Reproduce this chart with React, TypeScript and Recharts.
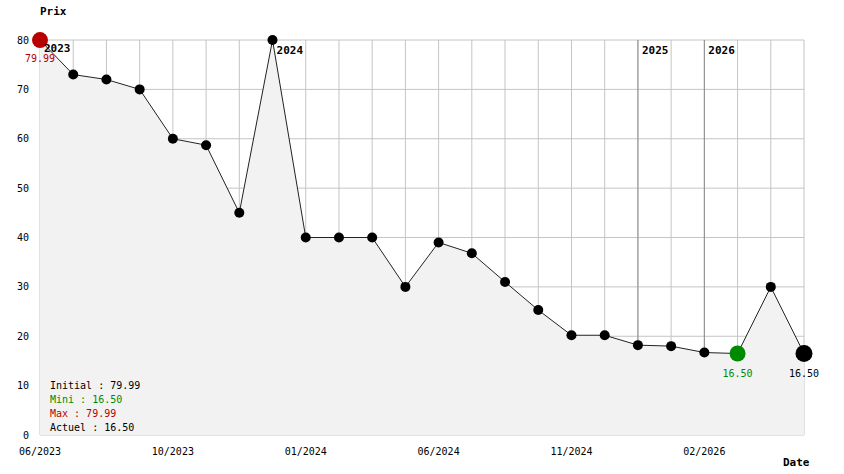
import React from "react";
import { ComposedChart, Area, XAxis, YAxis, CartesianGrid, ReferenceLine } from "recharts";

const prices = [79.99, 73, 72, 70, 60, 58.7, 45, 79.99, 40, 40, 40, 30, 39, 36.8, 31, 25.3, 20.2, 20.2, 18.2, 18, 16.7, 16.5, 30, 16.5];
const tickIndices = [0, 4, 8, 12, 16, 20];
const tickLabels = ["06/2023", "10/2023", "01/2024", "06/2024", "11/2024", "02/2026"];
const yearIndices = [0, 7, 18, 20];
const yearLabels = ["2023", "2024", "2025", "2026"];
const yTicks = [0, 10, 20, 30, 40, 50, 60, 70, 80];

const data = prices.map((p, i) => ({ idx: i, price: p }));

const initial = prices[0];
const current = prices[prices.length - 1];
const minVal = Math.min(...prices);
const maxVal = Math.max(...prices);
const minIdx = prices.lastIndexOf(minVal) === prices.length - 1 ? prices.indexOf(minVal) : prices.lastIndexOf(minVal);
const maxIdx = prices.indexOf(maxVal);
const lastIdx = prices.length - 1;

const FONT = "'DejaVu Sans Mono', monospace";
const RED = "#b80000";
const GREEN = "#008a00";

const Dot = (props: any) => {
  const { cx, cy, index } = props;
  if (cx == null || cy == null) return null;
  if (index === maxIdx) {
    return (
      <g key={`d${index}`}>
        <circle cx={cx} cy={cy} r={8} fill={RED} />
        <text x={cx} y={cy + 22} textAnchor="middle" fontFamily={FONT} fontSize={10} fill={RED}>
          {prices[index].toFixed(2)}
        </text>
      </g>
    );
  }
  if (index === minIdx) {
    return (
      <g key={`d${index}`}>
        <circle cx={cx} cy={cy} r={8} fill={GREEN} />
        <text x={cx} y={cy + 23} textAnchor="middle" fontFamily={FONT} fontSize={10} fill={GREEN}>
          {prices[index].toFixed(2)}
        </text>
      </g>
    );
  }
  if (index === lastIdx) {
    return (
      <g key={`d${index}`}>
        <circle cx={cx} cy={cy} r={8.5} fill="#000" />
        <text x={cx} y={cy + 23} textAnchor="middle" fontFamily={FONT} fontSize={10} fill="#000">
          {prices[index].toFixed(2)}
        </text>
      </g>
    );
  }
  return <circle key={`d${index}`} cx={cx} cy={cy} r={5} fill="#000" />;
};

const tickFmt = (v: any) => {
  const k = tickIndices.indexOf(Number(v));
  return k >= 0 ? tickLabels[k] : "";
};

export default function App() {
  const legendLines = [
    { text: `Initial : ${initial.toFixed(2)}`, color: "#000" },
    { text: `Mini : ${minVal.toFixed(2)}`, color: GREEN },
    { text: `Max : ${maxVal.toFixed(2)}`, color: RED },
    { text: `Actuel : ${current.toFixed(2)}`, color: "#000" },
  ];
  return (
    <div style={{ position: "absolute", left: 0, top: 0, width: 844, height: 474, background: "#fff" }}>
      <ComposedChart width={844} height={474} data={data} margin={{ top: 40, right: 40, left: 0, bottom: 0 }}>
        <CartesianGrid stroke="#c4c4c4" strokeWidth={1} />
        {yearIndices.map((yi, k) => (
          <ReferenceLine
            key={`y${k}`}
            x={yi}
            stroke={k === 0 ? "none" : "#8c8c8c"}
            strokeWidth={1}
            zIndex={-50}
            label={{
              value: yearLabels[k],
              position: "insideTopLeft",
              offset: 0,
              dx: 4,
              dy: k === 0 ? 4 : 6,
              fontFamily: FONT,
              fontSize: 11,
              fontWeight: "bold",
              fill: "#000",
            }}
          />
        ))}
        <XAxis
          dataKey="idx"
          type="category"
          interval={0}
          tickFormatter={tickFmt}
          axisLine={false}
          tickLine={false}
          tickSize={0}
          tickMargin={13}
          height={39}
          tick={{ fontFamily: FONT, fontSize: 10, fill: "#000" }}
        />
        <YAxis
          domain={[0, 80]}
          ticks={yTicks}
          width={40}
          axisLine={false}
          tickLine={false}
          tickSize={0}
          tickMargin={11}
          tick={{ fontFamily: FONT, fontSize: 10, fill: "#000" }}
        />
        <Area
          type="linear"
          dataKey="price"
          stroke="#222"
          strokeWidth={1}
          fill="#f2f2f2"
          fillOpacity={1}
          dot={Dot}
          activeDot={false}
          isAnimationActive={false}
        />
      </ComposedChart>
      <div style={{ position: "absolute", left: 40, top: 5, fontFamily: FONT, fontSize: 11, fontWeight: "bold" }}>Prix</div>
      <div style={{ position: "absolute", left: 783, top: 456, fontFamily: FONT, fontSize: 11, fontWeight: "bold" }}>Date</div>
      <div style={{ position: "absolute", left: 50, top: 379, fontFamily: FONT, fontSize: 10, lineHeight: "14px" }}>
        {legendLines.map((l, i) => (
          <div key={i} style={{ color: l.color, whiteSpace: "pre" }}>{l.text}</div>
        ))}
      </div>
    </div>
  );
}
